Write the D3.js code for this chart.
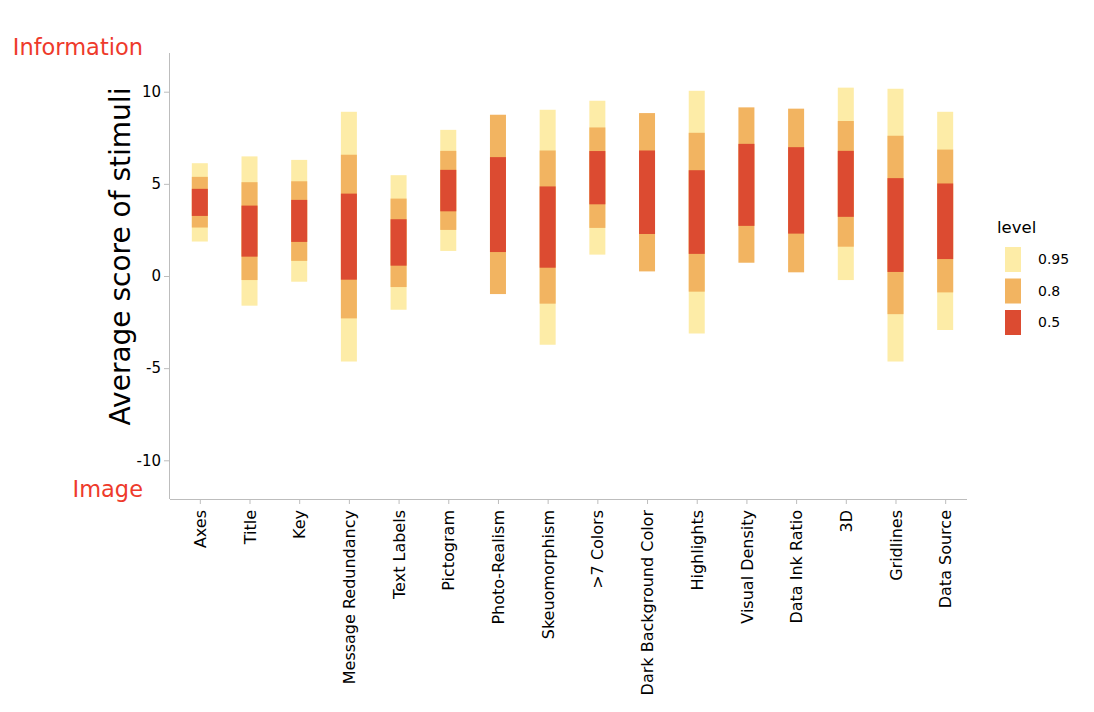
<!DOCTYPE html>
<html>
<head>
<meta charset="utf-8">
<script src="https://cdn.jsdelivr.net/npm/d3@7"></script>
<style>
  body { margin: 0; background: #fff; }
  text { font-family: "DejaVu Sans", Verdana, sans-serif; }
</style>
</head>
<body>
<svg id="chart" width="1094" height="712"></svg>
<script>
// categories along the x axis
const features = ["Axes", "Title", "Key", "Message Redundancy", "Text Labels", "Pictogram",
  "Photo-Realism", "Skeuomorphism", ">7 Colors", "Dark Background Color", "Highlights",
  "Visual Density", "Data Ink Ratio", "3D", "Gridlines", "Data Source"];

// interval ends per level (null = no band drawn)
const lo95 = [1.87, -1.61, -0.31, -4.64, -1.83, 1.36, null, -3.73, 1.16, null, -3.12, null, null, -0.22, -4.64, -2.93];
const hi95 = [6.12, 6.49, 6.30, 8.91, 5.47, 7.93, null, 9.02, 9.51, null, 10.05, null, null, 10.22, 10.16, 8.91];
const lo80 = [2.63, -0.22, 0.82, -2.30, -0.60, 2.50, -0.98, -1.50, 2.61, 0.25, -0.85, 0.72, 0.20, 1.59, -2.07, -0.89];
const hi80 = [5.38, 5.09, 5.14, 6.58, 4.20, 6.79, 8.75, 6.81, 8.06, 8.84, 7.77, 9.15, 9.08, 8.41, 7.61, 6.86];
const lo50 = [3.26, 1.05, 1.85, -0.20, 0.56, 3.51, 1.30, 0.45, 3.89, 2.28, 1.20, 2.72, 2.30, 3.21, 0.22, 0.92];
const hi50 = [4.73, 3.82, 4.13, 4.47, 3.08, 5.76, 6.45, 4.86, 6.78, 6.81, 5.74, 7.17, 6.99, 6.79, 5.31, 5.02];

const levels = ["0.95", "0.8", "0.5"];
const levelColors = ["#fdeca7", "#f2b461", "#dc4b31"];
const yTicks = [-10, -5, 0, 5, 10];

const svg = d3.select("#chart");
const plotL = 170, plotR = 975, plotT = 53, plotB = 499;

const x = d3.scalePoint().domain(features).range([plotL, plotR]).padding(0.6);
const y = d3.scaleLinear().domain([-12.1, 12.1]).range([plotB, plotT]);
const color = d3.scaleOrdinal().domain(levels).range(levelColors);

const bands = [
  {level: "0.95", lo: lo95, hi: hi95},
  {level: "0.8", lo: lo80, hi: hi80},
  {level: "0.5", lo: lo50, hi: hi50}
];

const barW = 16;
bands.forEach(b => {
  const rows = features.map((f, i) => ({f: f, lo: b.lo[i], hi: b.hi[i]})).filter(d => d.lo !== null);
  svg.append("g")
    .selectAll("rect")
    .data(rows)
    .enter()
    .append("rect")
    .attr("x", d => x(d.f) - barW / 2)
    .attr("width", barW)
    .attr("y", d => y(d.hi))
    .attr("height", d => y(d.lo) - y(d.hi))
    .attr("fill", color(b.level));
});

// y axis (plain hyphen for negatives, like the original)
const yAxis = svg.append("g")
  .attr("transform", `translate(${plotL},0)`)
  .call(d3.axisLeft(y).tickValues(yTicks).tickFormat(d => String(d))
    .tickSize(6).tickPadding(3).tickSizeOuter(0));
yAxis.select(".domain").attr("d", `M-0.5,${plotT}V${plotB}`);
yAxis.selectAll("text").style("font-size", "15px").attr("fill", "#000");

// x axis
const xAxis = svg.append("g")
  .attr("transform", `translate(0,${plotB})`)
  .call(d3.axisBottom(x).tickSize(5).tickSizeOuter(0));
xAxis.select(".domain").attr("d", `M${plotL},0.5H${plotR - 8}`);
xAxis.selectAll("text")
  .style("font-size", "16px")
  .attr("fill", "#000")
  .attr("transform", "rotate(-90)")
  .attr("text-anchor", "end")
  .attr("x", -11)
  .attr("y", 0)
  .attr("dy", "0.35em");

svg.selectAll(".domain, .tick line").attr("stroke", "#bdbdbd");

// axis title
svg.append("text")
  .attr("transform", `translate(130,${(88 + 425) / 2}) rotate(-90)`)
  .attr("text-anchor", "middle")
  .style("font-size", "28px")
  .text("Average score of stimuli");

// red end labels
svg.append("text").attr("x", 143).attr("y", 55).attr("text-anchor", "end")
  .attr("fill", "#ee3a2b").style("font-size", "22.5px").text("Information");
svg.append("text").attr("x", 143).attr("y", 497).attr("text-anchor", "end")
  .attr("fill", "#ee3a2b").style("font-size", "22.5px").text("Image");

// legend
const legend = svg.append("g").attr("transform", "translate(1005,0)");
legend.append("text").attr("x", -8).attr("y", 233).style("font-size", "16.5px").text("level");
legend.selectAll("rect.sw")
  .data(levels)
  .enter()
  .append("rect")
  .attr("class", "sw")
  .attr("x", 0)
  .attr("y", (d, i) => 247 + i * 31.5)
  .attr("width", 16)
  .attr("height", 25)
  .attr("fill", d => color(d));
legend.selectAll("text.lb")
  .data(levels)
  .enter()
  .append("text")
  .attr("class", "lb")
  .attr("x", 33)
  .attr("y", (d, i) => 247 + i * 31.5 + 12.5)
  .attr("dy", "0.35em")
  .style("font-size", "14px")
  .text(d => d);
</script>
</body>
</html>
